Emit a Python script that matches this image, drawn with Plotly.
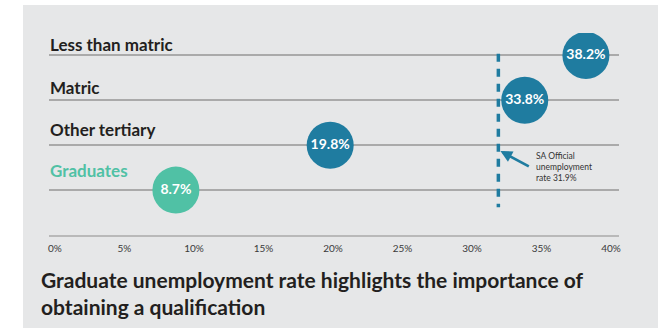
import plotly.graph_objects as go

# ---- data ----
categories = ["Less than matric", "Matric", "Other tertiary", "Graduates"]
rates = [38.2, 33.8, 19.8, 8.7]
official_rate = 31.9
tick_values = [0, 5, 10, 15, 20, 25, 30, 35, 40]
tick_labels = ["0%", "5%", "10%", "15%", "20%", "25%", "30%", "35%", "40%"]
title_text = "Graduate unemployment rate highlights the importance of<br>obtaining a qualification"
note_text = "SA Official<br>unemployment<br>rate 31.9%"

# ---- styles ----
BLUE = "#1f7ca0"
TEAL = "#50c1a5"
DARK = "#231f20"
PANEL = "#e6e7e8"
FONT = "Lato"
row_colors = [BLUE, BLUE, BLUE, TEAL]
label_colors = [DARK, DARK, DARK, TEAL]
label_shift = [11, 13, 16, 20]

n = len(categories)
ypos = [n - 1 - i for i in range(n)]  # top row highest

fig = go.Figure()

# reference dashed line
fig.add_trace(go.Scatter(
    x=[official_rate, official_rate], y=[ypos[0] + 0.04, ypos[-1] - 0.38],
    mode="lines", line=dict(color=BLUE, width=3.5, dash="8px,7px"),
    hoverinfo="skip", showlegend=False))

# bubbles
fig.add_trace(go.Scatter(
    x=rates, y=ypos, mode="markers+text",
    marker=dict(size=47, color=row_colors, line=dict(width=0)),
    text=[f"{v:.1f}%" for v in rates], textposition="middle center",
    textfont=dict(family=FONT, size=14, color="white", weight="bold"),
    hoverinfo="skip", showlegend=False))

annotations = []
for i, c in enumerate(categories):
    annotations.append(dict(
        x=-0.002, xref="paper", xanchor="left", y=ypos[i], yref="y", yanchor="middle",
        yshift=label_shift[i], text=c, showarrow=False,
        font=dict(family=FONT, size=17, color=label_colors[i], weight="bold")))

# arrow
annotations.append(dict(
    x=official_rate + 0.15, y=ypos[-1] + 0.87, xref="x", yref="y",
    ax=official_rate + 2.3, ay=ypos[-1] + 0.51, axref="x", ayref="y",
    text="", showarrow=True, arrowhead=2, arrowsize=0.9, arrowwidth=2.6,
    arrowcolor=BLUE, standoff=0, startstandoff=0))
annotations.append(dict(
    x=official_rate + 2.6, y=ypos[-1] + 0.51, xref="x", yref="y",
    xanchor="left", yanchor="middle", align="left", text=note_text, showarrow=False,
    font=dict(family=FONT, size=8.5, color="#333333")))

# title
annotations.append(dict(
    x=-0.0175, xref="paper", xanchor="left", y=-0.285, yref="paper", yanchor="middle",
    align="left", text=title_text, showarrow=False,
    font=dict(family=FONT, size=21, color=DARK, weight="bold")))

fig.update_layout(
    width=658, height=328,
    margin=dict(l=49, r=39, t=33, b=93),
    paper_bgcolor="white", plot_bgcolor="rgba(0,0,0,0)",
    showlegend=False,
    annotations=annotations,
    shapes=[dict(type="rect", xref="paper", yref="paper",
                 x0=-0.0456, x1=1.07, y0=-0.47, y1=1.139,
                 fillcolor=PANEL, line=dict(width=0), layer="below")],
    xaxis=dict(range=[-0.43, 40.58], tickvals=tick_values, ticktext=tick_labels,
               showgrid=False, zeroline=False, showline=True, linecolor="#b9b9b9",
               linewidth=2, ticks="outside", ticklen=3, tickcolor="rgba(0,0,0,0)",
               tickfont=dict(family=FONT, size=10, color="#3a3a3a"), fixedrange=True),
    yaxis=dict(range=[-1, 3.5], tickvals=ypos, showticklabels=False,
               showgrid=True, gridcolor="#aaaaaa", gridwidth=1.5, zeroline=False,
               showline=False, fixedrange=True),
)

fig.write_html("out.html")
